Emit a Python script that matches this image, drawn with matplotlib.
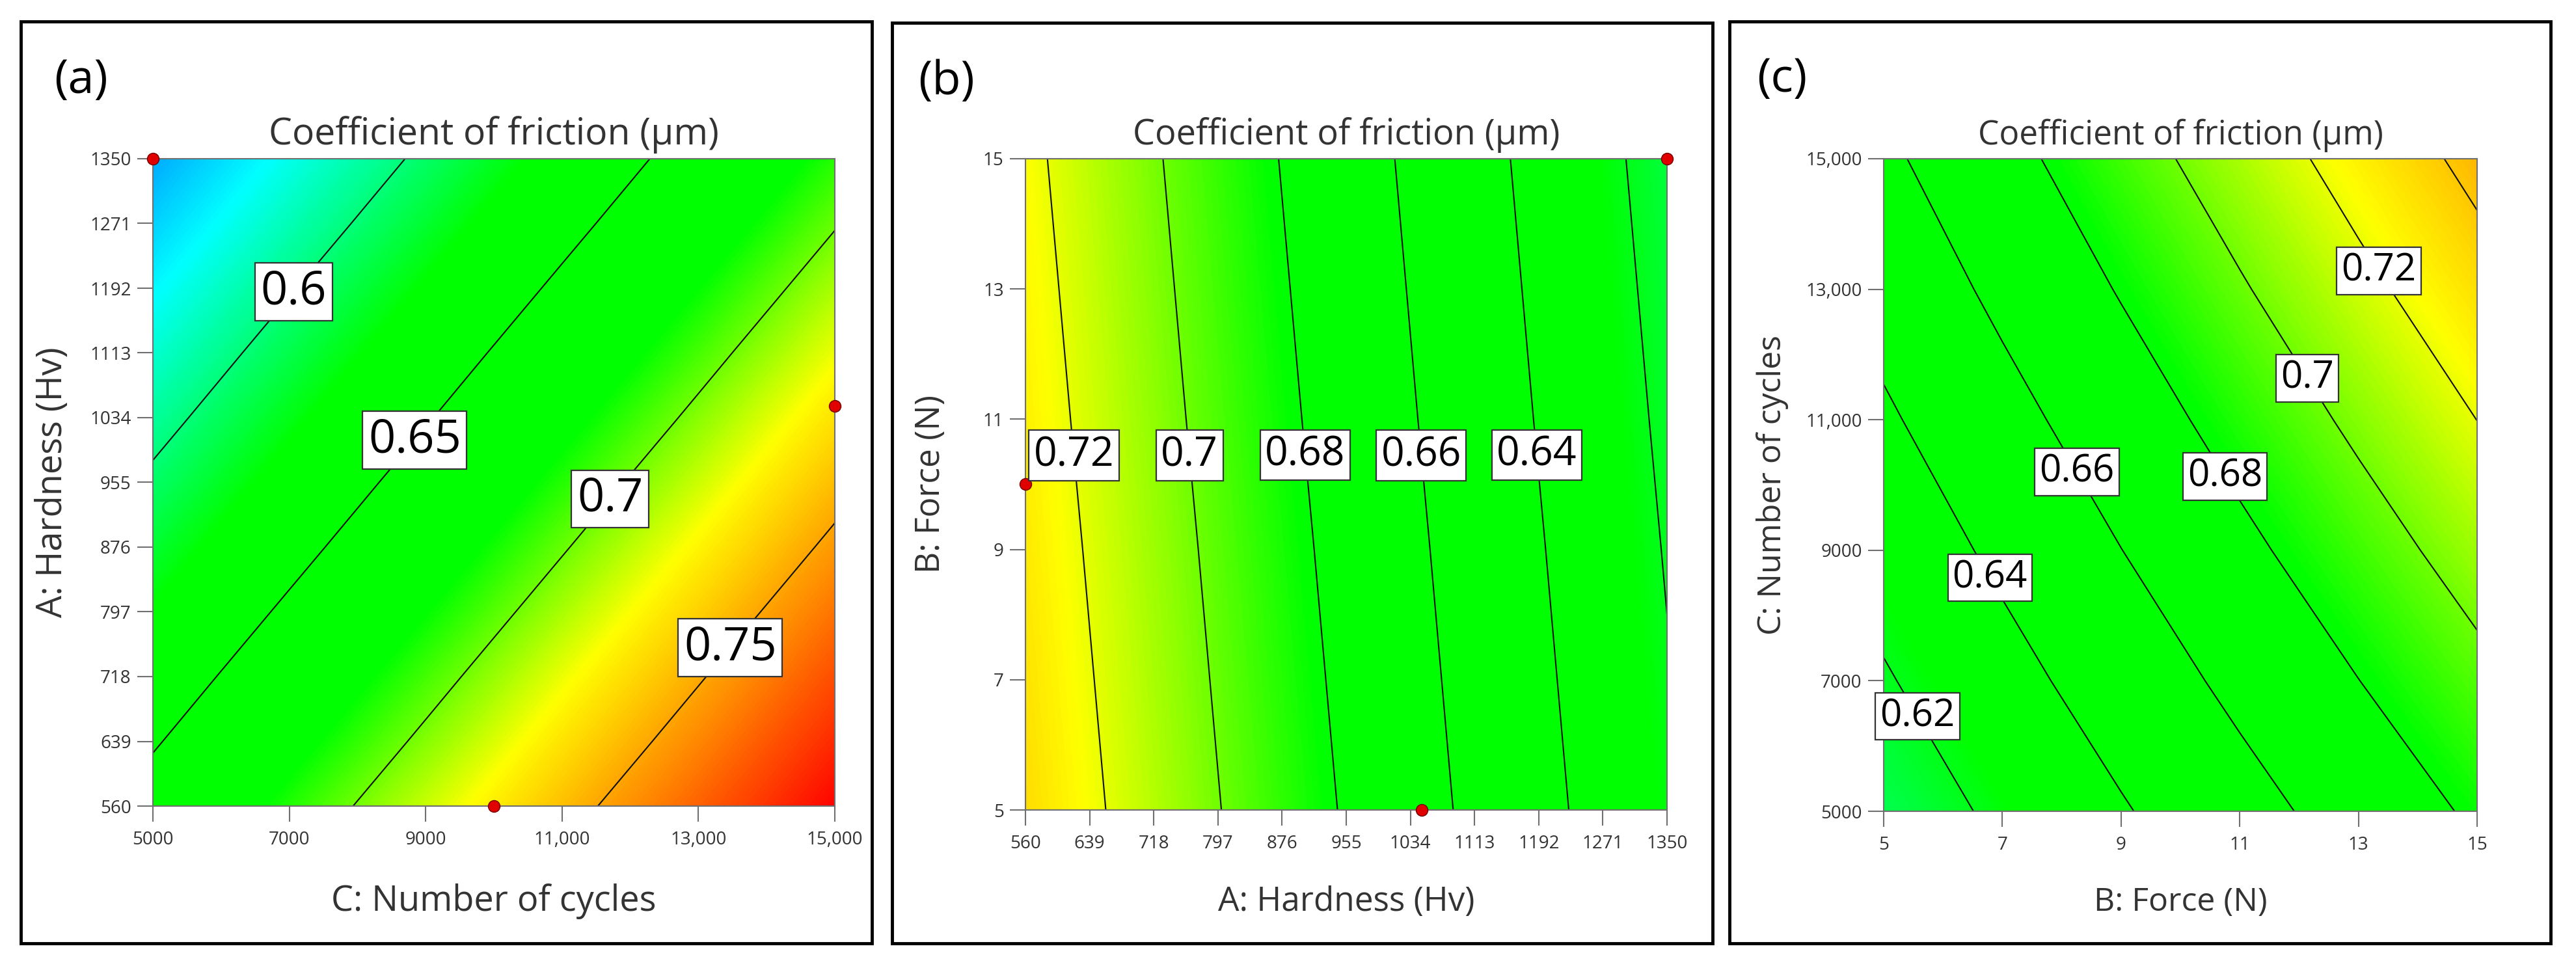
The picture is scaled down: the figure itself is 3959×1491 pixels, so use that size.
import numpy as np
import matplotlib
matplotlib.use("Agg")
import matplotlib.pyplot as plt
from matplotlib.colors import LinearSegmentedColormap, Normalize
from matplotlib.patches import Rectangle

plt.rcParams['font.family'] = ['Open Sans', 'DejaVu Sans']

# ---- data ----
title = "Coefficient of friction (µm)"

# (a) hardness (rows) x number of cycles (cols)
a_cycles = [5000, 7000, 9000, 11000, 13000, 15000]
a_hard = [560, 639, 718, 797, 876, 955, 1034, 1113, 1192, 1271, 1350]
a_cof = [
    [0.6591, 0.6870, 0.7148, 0.7427, 0.7705, 0.7984],
    [0.6480, 0.6759, 0.7037, 0.7316, 0.7594, 0.7873],
    [0.6370, 0.6649, 0.6927, 0.7206, 0.7484, 0.7763],
    [0.6259, 0.6538, 0.6816, 0.7095, 0.7373, 0.7652],
    [0.6148, 0.6427, 0.6705, 0.6984, 0.7262, 0.7541],
    [0.6038, 0.6317, 0.6595, 0.6874, 0.7152, 0.7431],
    [0.5927, 0.6206, 0.6484, 0.6763, 0.7041, 0.7320],
    [0.5817, 0.6096, 0.6374, 0.6653, 0.6931, 0.7210],
    [0.5706, 0.5985, 0.6263, 0.6542, 0.6820, 0.7099],
    [0.5595, 0.5874, 0.6152, 0.6431, 0.6709, 0.6988],
    [0.5485, 0.5764, 0.6042, 0.6321, 0.6599, 0.6878],
]
a_levels = [0.6, 0.65, 0.7, 0.75]
a_label_at = [(6861, 1202), (8607, 1023), (11470, 951), (13225, 770)]
a_pts_x = [5000, 15000, 10000]
a_pts_y = [1350, 1048, 560]

# (b) force (rows) x hardness (cols)
b_hard = [560, 639, 718, 797, 876, 955, 1034, 1113, 1192, 1271, 1350]
b_force = [5, 7, 9, 11, 13, 15]
b_cof = [
    [0.7339, 0.7228, 0.7117, 0.7006, 0.6895, 0.6785, 0.6674, 0.6563, 0.6452, 0.6341, 0.6230],
    [0.7319, 0.7208, 0.7097, 0.6986, 0.6875, 0.6765, 0.6654, 0.6543, 0.6432, 0.6321, 0.6210],
    [0.7299, 0.7188, 0.7077, 0.6966, 0.6855, 0.6745, 0.6634, 0.6523, 0.6412, 0.6301, 0.6190],
    [0.7278, 0.7167, 0.7056, 0.6945, 0.6834, 0.6724, 0.6613, 0.6502, 0.6391, 0.6280, 0.6169],
    [0.7258, 0.7147, 0.7036, 0.6925, 0.6814, 0.6704, 0.6593, 0.6482, 0.6371, 0.6260, 0.6149],
    [0.7238, 0.7127, 0.7016, 0.6905, 0.6794, 0.6684, 0.6573, 0.6462, 0.6351, 0.6240, 0.6129],
]
b_levels = [0.62, 0.64, 0.66, 0.68, 0.70, 0.72]
b_label_at = [(623, 10.45), (765, 10.45), (907, 10.45), (1050, 10.45), (1192, 10.45)]
b_pts_x = [560, 1048, 1350]
b_pts_y = [10, 5, 15]

# (c) number of cycles (rows) x force (cols)
c_force = [5, 7, 9, 11, 13, 15]
c_cycles = [5000, 7000, 9000, 11000, 13000, 15000]
c_cof = [
    [0.6088, 0.6236, 0.6384, 0.6532, 0.6680, 0.6828],
    [0.6183, 0.6337, 0.6491, 0.6645, 0.6798, 0.6952],
    [0.6279, 0.6438, 0.6598, 0.6757, 0.6917, 0.7076],
    [0.6374, 0.6539, 0.6703, 0.6870, 0.7035, 0.7201],
    [0.6470, 0.6641, 0.6812, 0.6983, 0.7154, 0.7325],
    [0.6565, 0.6742, 0.6919, 0.7095, 0.7272, 0.7449],
]
c_levels = [0.62, 0.64, 0.66, 0.68, 0.70, 0.72, 0.74]
c_label_at = [(5.80, 6580), (7.02, 8700), (8.48, 10320), (10.96, 10250), (12.36, 11760), (13.57, 13410)]

# design-expert like colour ramp
vmin, vmax = 0.50, 0.80
ramp = [(0.50, '#0000ff'), (0.572, '#00ffff'), (0.625, '#00ff00'),
        (0.682, '#00ff00'), (0.724, '#ffff00'), (0.80, '#ff0000')]
cmap = LinearSegmentedColormap.from_list(
    'de', [((v - vmin) / (vmax - vmin), c) for v, c in ramp])
norm = Normalize(vmin, vmax)

W, H = 3959, 1491
fig = plt.figure(figsize=(W / 100, H / 100), dpi=100)
fig.patch.set_facecolor('white')


def fx(x):
    return x / W


def fy(y):
    return 1 - y / H


def fmt_num(v):
    return f"{v:,.0f}" if v >= 10000 else f"{v:g}"


def panel(xs, ys, z, levels, label_at, box, frame, tag, xlabel, ylabel,
          ylab_x, title_fs, lab_fs, clab_fs, pts=None):
    x0, y0, x1, y1 = box
    ax = fig.add_axes([fx(x0), fy(y1), (x1 - x0) / W, (y1 - y0) / H])
    z = np.array(z)
    dx = xs[1] - xs[0]
    dy = ys[1] - ys[0]
    ax.imshow(z, origin='lower', aspect='auto', cmap=cmap, norm=norm,
              interpolation='bilinear', interpolation_stage='data',
              extent=[xs[0] - dx / 2, xs[-1] + dx / 2, ys[0] - dy / 2, ys[-1] + dy / 2])
    cs = ax.contour(xs, ys, z, levels=levels, colors='#101010', linewidths=1.5)
    ax.set_xlim(xs[0], xs[-1])
    ax.set_ylim(ys[0], ys[-1])
    ax.set_xticks(xs)
    ax.set_xticklabels([fmt_num(v) for v in xs])
    ax.set_yticks(ys)
    ax.set_yticklabels([fmt_num(v) for v in ys])
    ax.tick_params(length=17, width=1.5, color='#707070', labelsize=20,
                   labelcolor='#333333')
    ax.tick_params(axis='x', pad=10)
    ax.tick_params(axis='y', pad=7)
    for s in ax.spines.values():
        s.set_color('#707070')
        s.set_linewidth(1.5)

    if pts is not None:
        ax.plot(pts[0], pts[1], 'o', color='#e00000', mec='#700000', mew=1,
                ms=13, clip_on=False, zorder=6)

    txts = ax.clabel(cs, inline=False, fontsize=clab_fs, fmt='%g',
                     manual=label_at, colors='black')
    for t in txts:
        t.set_rotation(0)
        t.set_zorder(8)
        t.set_clip_on(False)
        t.set_bbox(dict(boxstyle='square,pad=0.12', fc='white', ec='#333333', lw=1.6))

    cx = (x0 + x1) / 2
    fig.text(fx(cx), fy(222), title, ha='center', va='baseline',
             fontsize=title_fs, color='#333333')
    fig.text(fx(cx), fy(1400), xlabel, ha='center', va='baseline',
             fontsize=lab_fs, color='#333333')
    fig.text(fx(ylab_x), fy((y0 + y1) / 2), ylabel, ha='center', va='center',
             rotation=90, fontsize=lab_fs, color='#333333')

    bx0, by0, bx1, by1 = frame
    fig.patches.append(Rectangle((fx(bx0), fy(by1)), (bx1 - bx0) / W, (by1 - by0) / H,
                                 transform=fig.transFigure, fill=False,
                                 ec='black', lw=3.5))
    fig.text(fx(tag[1]), fy(tag[2]), tag[0], ha='left', va='top', fontsize=52,
             color='black')
    return ax


panel(a_cycles, a_hard, a_cof, a_levels, a_label_at,
      (235, 244, 1283, 1239), (32, 33, 1340, 1450), ('(a)', 83, 88),
      "C: Number of cycles", "A: Hardness (Hv)", 81, 41, 39, 52,
      pts=(a_pts_x, a_pts_y))

panel(b_hard, b_force, b_cof, b_levels, b_label_at,
      (1576, 244, 2562, 1245), (1371, 35, 2632, 1450), ('(b)', 1411, 90),
      "A: Hardness (Hv)", "B: Force (N)", 1430, 39, 37, 45,
      pts=(b_pts_x, b_pts_y))

panel(c_force, c_cycles, c_cof, c_levels, c_label_at,
      (2895, 244, 3807, 1247), (2658, 33, 3920, 1450), ('(c)', 2700, 86),
      "B: Force (N)", "C: Number of cycles", 2724, 37, 36, 42)

fig.savefig("out.png", dpi=100, facecolor='white')
